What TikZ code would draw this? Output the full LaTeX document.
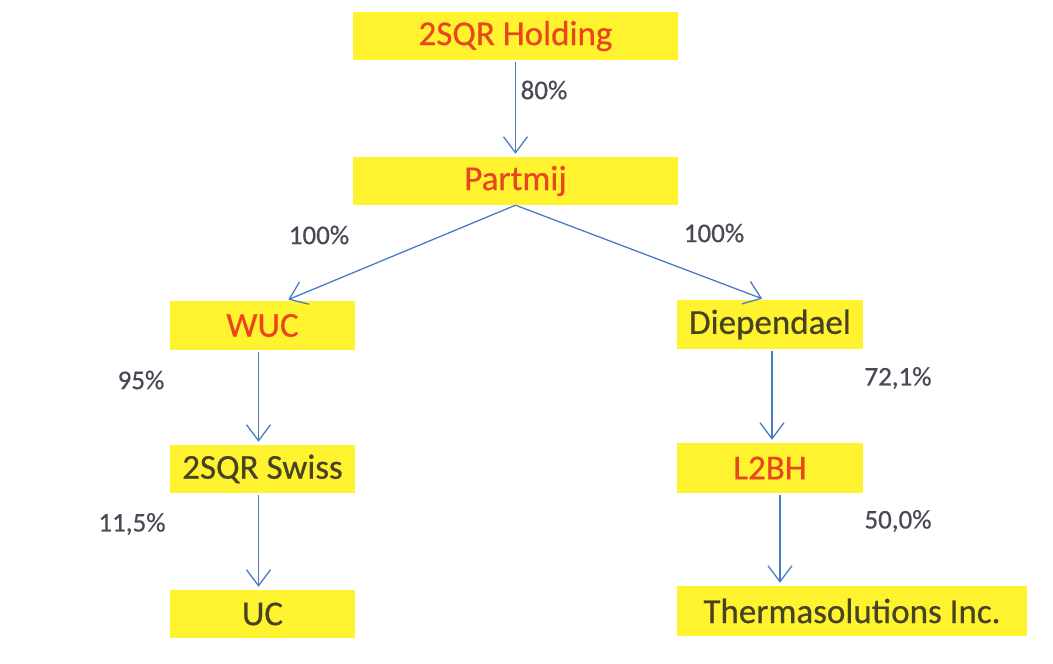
\documentclass[tikz,border=0pt]{standalone}
\usepackage{fontspec}
\setmainfont{Carlito}[FakeBold=0.5]
\usetikzlibrary{arrows.meta, positioning}

\definecolor{boxyellow}{HTML}{FFF22E}
\definecolor{namered}{HTML}{E8461E}
\definecolor{namedark}{HTML}{484224}
\definecolor{linkblue}{HTML}{4A7CC4}
\definecolor{pctgray}{HTML}{4D4656}

\tikzset{
	company/.style={fill=boxyellow, inner sep=0pt, font=\fontsize{35}{40}\selectfont},
	link/.style={draw=linkblue, line width=1.3pt, -{Straight Barb[length=16pt, width=24pt, line width=1.3pt]}, shorten >=3pt, shorten <=2pt},
	share/.style={text=pctgray, font=\fontsize{27}{31}\selectfont}
}

\begin{document}
\begin{tikzpicture}[x=1pt, y=-1pt]
		\fill[white] (0,0) rectangle (1053,664);
		\useasboundingbox (0,0) rectangle (1053,664);
		
		% companies
		\node[company, text=namered, minimum width=325pt, minimum height=48pt] (holding) at (515.5, 36) {2SQR Holding};
		\node[company, text=namered, minimum width=325pt, minimum height=48pt] (partmij) at (515.5, 181) {Partmij};
		\node[company, text=namered, minimum width=185pt, minimum height=49pt] (wuc) at (262.5, 325.5) {WUC};
		\node[company, text=namedark, minimum width=186pt, minimum height=49pt] (diep) at (770, 324.5) {Diependael};
		\node[company, text=namedark, minimum width=185pt, minimum height=48pt] (swiss) at (262.5, 469) {2SQR Swiss};
		\node[company, text=namedark, minimum width=185pt, minimum height=48pt] (uc) at (262.5, 614) {UC};
		\node[company, text=namered, minimum width=186pt, minimum height=50pt] (l2bh) at (770, 468) {L2BH};
		\node[company, text=namedark, minimum width=350pt, minimum height=50pt] (thermo) at (852, 611) {Thermasolutions Inc.};
		
		% shares
		\node[share] (s80) at (544, 90) {80\%};
		\node[share] (s100l) at (319, 235) {100\%};
		\node[share] (s100r) at (714, 233) {100\%};
		\node[share] (s95) at (141, 380) {95\%};
		\node[share] (s115) at (132, 524) {11,5\%};
		\node[share] (s721) at (898, 378) {72,1\%};
		\node[share] (s500) at (898, 521) {50,0\%};
		
		% links
		\coordinate (wuctop) at ([xshift=23pt]wuc.north);
		\coordinate (dieptop) at ([xshift=-5pt]diep.north);
		\coordinate (l2bhfoot) at ([xshift=10pt]l2bh.south);
		\draw[link] (holding) -- (partmij);
		\draw[link, shorten <=0pt] (partmij.south) -- (wuctop);
		\draw[link, shorten <=0pt] (partmij.south) -- (dieptop);
		\draw[link] ([xshift=-4pt]wuc.south) -- ([xshift=-4pt]swiss.north);
		\draw[link] ([xshift=-4pt]swiss.south) -- ([xshift=-4pt]uc.north);
		\draw[link] ([xshift=2pt]diep.south) -- ([xshift=2pt]l2bh.north);
		\draw[link] (l2bhfoot) -- (l2bhfoot |- thermo.north);
	\end{tikzpicture}
\end{document}
